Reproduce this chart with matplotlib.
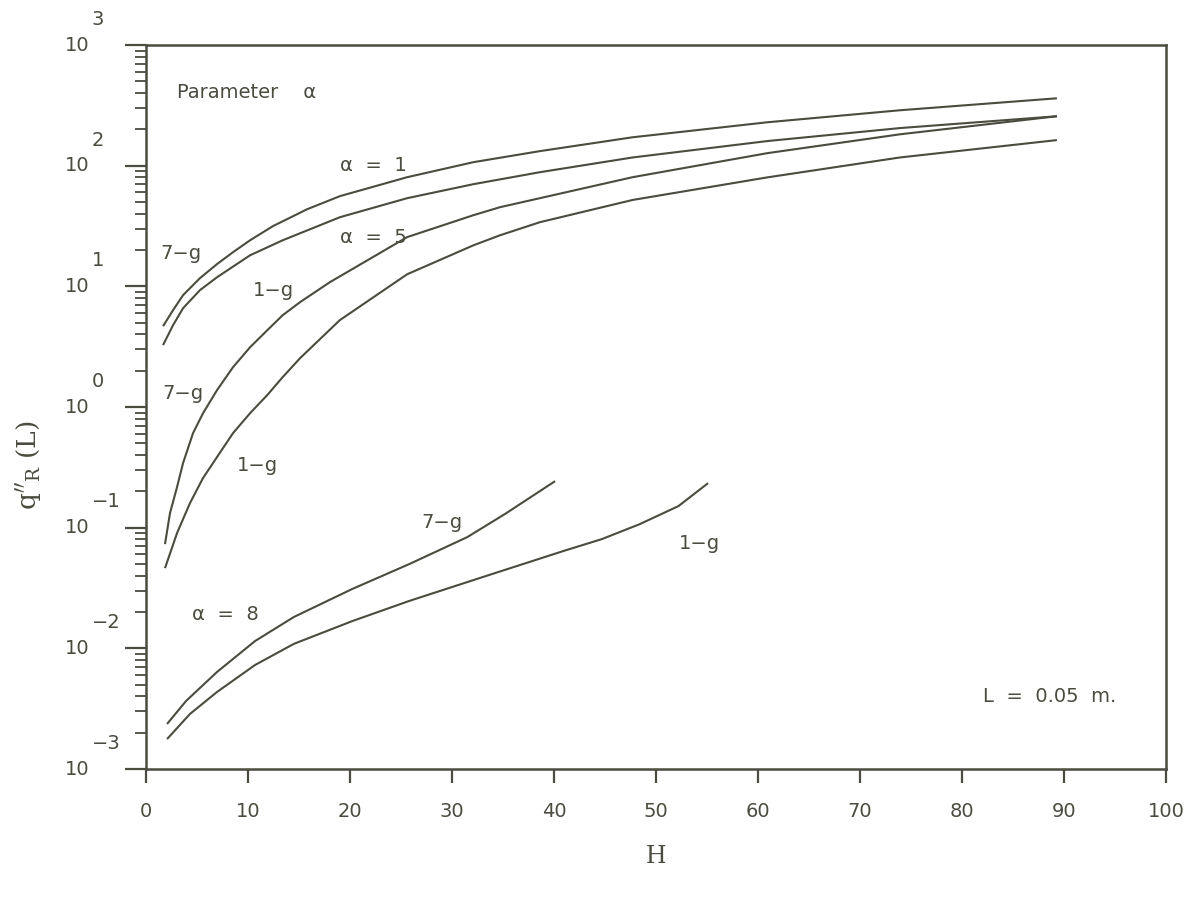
import matplotlib.pyplot as plt
from matplotlib.ticker import LogLocator, NullFormatter, FixedLocator
from matplotlib.transforms import offset_copy

plt.rcParams['mathtext.fontset'] = 'dejavuserif'

# H values and q''_R(L) readings for each curve
h_a1_7g = [1.67, 2.65, 3.63, 5.29, 6.96, 8.53, 10.2, 12.45, 15.8, 19.0, 25.6, 32.1, 38.6, 47.7, 60.9, 73.9, 89.3]
q_a1_7g = [4.68, 6.35, 8.45, 11.7, 15.3, 19.2, 24.1, 31.6, 43.6, 55.9, 80.3, 107, 132, 172, 229, 288, 362]

h_a1_1g = [1.67, 2.65, 3.63, 5.29, 6.96, 10.2, 13.4, 19.0, 25.6, 32.1, 38.6, 47.7, 60.9, 73.9, 89.3]
q_a1_1g = [3.26, 4.77, 6.59, 9.31, 11.9, 18.1, 24.1, 37.4, 53.8, 70.3, 88.3, 117, 160, 205, 257]

h_a5_7g = [1.86, 2.35, 3.04, 3.63, 4.61, 5.59, 6.96, 8.53, 10.2, 11.9, 13.4, 15.1, 18.0,
           25.6, 32.1, 34.7, 47.7, 60.9, 73.9, 89.3]
q_a5_7g = [0.0731, 0.132, 0.217, 0.343, 0.608, 0.889, 1.38, 2.14, 3.13, 4.34, 5.77, 7.40, 10.8,
           25.6, 38.9, 45.3, 80.3, 127, 182, 257]

h_a5_1g = [1.86, 3.04, 4.31, 5.59, 6.96, 8.53, 10.2, 11.9, 13.4, 15.1, 19.0,
           25.6, 32.1, 34.7, 38.6, 47.7, 60.9, 73.9, 89.3]
q_a5_1g = [0.0462, 0.0902, 0.160, 0.258, 0.385, 0.608, 0.889, 1.26, 1.77, 2.54, 5.25,
           12.6, 21.9, 26.5, 34, 52, 80, 117, 163]

h_a8_7g = [2.06, 3.92, 6.96, 10.69, 14.5, 20.2, 25.8, 31.5, 35.2, 40.1]
q_a8_7g = [0.00236, 0.00366, 0.00637, 0.0115, 0.0182, 0.0310, 0.0499, 0.0836, 0.130, 0.243]

h_a8_1g = [2.06, 4.31, 6.96, 10.69, 14.5, 20.2, 25.8, 33.3, 40.9, 44.7, 48.4, 52.2, 55.1]
q_a8_1g = [0.00177, 0.00286, 0.00435, 0.00728, 0.0109, 0.0168, 0.0247, 0.0397, 0.0640,
           0.0805, 0.107, 0.151, 0.234]

x_ticks = [0, 10, 20, 30, 40, 50, 60, 70, 80, 90, 100]
y_exponents = [-3, -2, -1, 0, 1, 2, 3]

ink = '#4b4b40'

fig = plt.figure(figsize=(11.95, 8.99), dpi=100)
ax = fig.add_axes([0.1222, 0.1446, 0.8536, 0.8053])

for h, q in [(h_a1_7g, q_a1_7g), (h_a1_1g, q_a1_1g), (h_a5_7g, q_a5_7g),
             (h_a5_1g, q_a5_1g), (h_a8_7g, q_a8_7g), (h_a8_1g, q_a8_1g)]:
    ax.plot(h, q, color=ink, lw=1.5, solid_capstyle='butt', solid_joinstyle='round')

ax.set_yscale('log')
ax.set_xlim(0, 100)
ax.set_ylim(1e-3, 1e3)

# axes frame and ticks
for s in ax.spines.values():
    s.set_color(ink)
    s.set_linewidth(1.8)
ax.set_xticks(x_ticks)
ax.yaxis.set_major_locator(FixedLocator([10.0 ** e for e in y_exponents]))
ax.yaxis.set_minor_locator(LogLocator(base=10, subs=range(2, 10), numticks=20))
ax.yaxis.set_minor_formatter(NullFormatter())
ax.tick_params(axis='x', direction='out', length=10, width=1.6, color=ink,
               labelsize=14, labelcolor=ink, pad=14)
ax.tick_params(axis='y', which='major', direction='out', length=15, width=1.6,
               color=ink, labelleft=False)
ax.tick_params(axis='y', which='minor', direction='out', length=8, width=1.3,
               color=ink)

# y tick labels written as 10 with a raised exponent
ytr = ax.get_yaxis_transform()
ytr_up = offset_copy(ytr, fig=fig, x=0, y=18.5, units='points')
for e in y_exponents:
    ax.text(-0.055, 10.0 ** e, '10', transform=ytr, ha='right', va='center',
            fontsize=14, color=ink)
    ax.text(-0.053, 10.0 ** e, str(e).replace('-', '\u2212'), transform=ytr_up,
            ha='left', va='center', fontsize=14, color=ink)

ax.set_xlabel('H', family='DejaVu Serif', fontsize=17, color=ink, labelpad=17)
ax.set_ylabel(r"$\mathrm{q''_R}$ (L)", family='DejaVu Serif', fontsize=19, color=ink)
ax.yaxis.set_label_coords(-0.099, 0.42)

# annotations
txt = dict(fontsize=14, color=ink, ha='left', va='center')
ax.text(3.0, 406, 'Parameter    \u03b1', **txt)
ax.text(19.0, 101, '\u03b1  =  1', **txt)
ax.text(19.0, 25.6, '\u03b1  =  5', **txt)
ax.text(1.4, 18.8, '7\u2212g', **txt)
ax.text(10.5, 9.3, '1\u2212g', **txt)
ax.text(1.6, 1.30, '7\u2212g', **txt)
ax.text(8.9, 0.33, '1\u2212g', **txt)
ax.text(27.0, 0.111, '7\u2212g', **txt)
ax.text(4.5, 0.0189, '\u03b1  =  8', **txt)
ax.text(52.2, 0.0744, '1\u2212g', **txt)
ax.text(82.1, 0.00396, 'L  =  0.05  m.', **txt)

fig.savefig('out.png', dpi=100)
